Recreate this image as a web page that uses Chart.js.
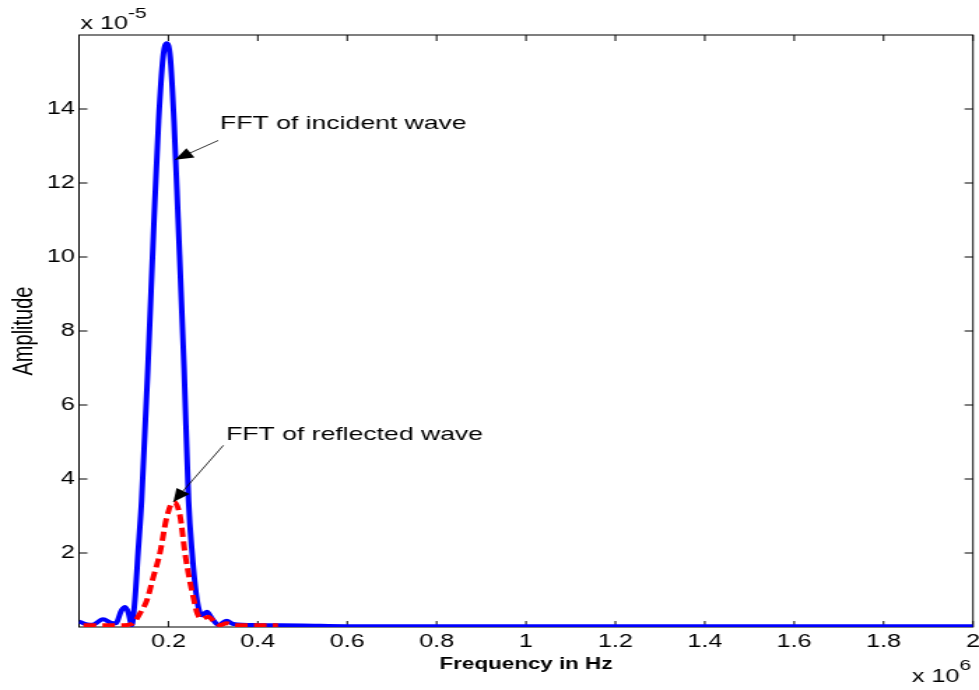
<!DOCTYPE html>
<html>
<head>
<meta charset="utf-8">
<script src="https://cdn.jsdelivr.net/npm/chart.js@4"></script>
<style>
  html, body { margin: 0; padding: 0; background: #fff; overflow: hidden; }
  /* the figure is drawn narrow and stretched wide, like the original export */
  #fftChart { display: block; transform: scaleX(1.39857); transform-origin: 0 0; }
</style>
</head>
<body>
<canvas id="fftChart" width="700" height="690"></canvas>
<script>
// frequency in units of 10^6 Hz, amplitude in units of 10^-5
const incidentFreq = [0.000, 0.015, 0.030, 0.054, 0.070, 0.082, 0.095, 0.103, 0.110, 0.118,
  0.125, 0.132, 0.140, 0.154, 0.168, 0.178, 0.188, 0.196, 0.204, 0.2125,
  0.2215, 0.235, 0.245, 0.253, 0.264, 0.275, 0.286, 0.298, 0.312, 0.330,
  0.345, 0.400, 0.500, 0.600, 0.800, 1.000, 1.500, 2.000];
const incidentAmp = [0.15, 0.08, 0.06, 0.21, 0.12, 0.10, 0.45, 0.54, 0.40, 0.05,
  0.73, 2.00, 3.42, 7.00, 11.06, 13.67, 15.40, 15.78, 15.40, 13.67,
  11.06, 7.00, 3.42, 2.00, 0.73, 0.32, 0.41, 0.22, 0.05, 0.17,
  0.08, 0.05, 0.04, 0.02, 0.02, 0.02, 0.02, 0.02];

const reflectedFreq = [0.010, 0.050, 0.100, 0.118, 0.125, 0.138, 0.152, 0.165, 0.181, 0.195,
  0.205, 0.213, 0.226, 0.237, 0.247, 0.257, 0.265, 0.275, 0.289, 0.302,
  0.315, 0.330, 0.350, 0.445];
const reflectedAmp = [0.05, 0.05, 0.05, 0.08, 0.15, 0.40, 0.73, 1.30, 2.00, 2.90,
  3.30, 3.38, 3.00, 2.00, 1.30, 0.73, 0.35, 0.22, 0.28, 0.15,
  0.05, 0.10, 0.05, 0.05];

const xTickValues = [0.2, 0.4, 0.6, 0.8, 1, 1.2, 1.4, 1.6, 1.8, 2];
const yTickValues = [2, 4, 6, 8, 10, 12, 14];

const FONT = "'Liberation Sans', Arial, Helvetica, sans-serif";

const notes = [
  { text: 'FFT of incident wave', at: [0.3155, 13.47], tail: [0.3115, 13.15], tip: [0.2148, 12.63] },
  { text: 'FFT of reflected wave', at: [0.329, 5.06], tail: [0.323, 4.91], tip: [0.211, 3.38] }
];

// MATLAB style box with inward ticks, exponents and arrows
const matlabFrame = {
  id: 'matlabFrame',
  beforeDatasetsDraw(chart) {
    const { ctx, chartArea: a, scales: { x, y } } = chart;
    ctx.save();
    ctx.strokeStyle = '#000';
    ctx.lineWidth = 1;
    ctx.strokeRect(a.left, a.top, a.right - a.left, a.bottom - a.top);
    ctx.beginPath();
    xTickValues.forEach(v => {
      const px = x.getPixelForValue(v);
      ctx.moveTo(px, a.bottom); ctx.lineTo(px, a.bottom - 6);
      ctx.moveTo(px, a.top); ctx.lineTo(px, a.top + 6);
    });
    yTickValues.forEach(v => {
      const py = y.getPixelForValue(v);
      ctx.moveTo(a.left, py); ctx.lineTo(a.left + 6, py);
      ctx.moveTo(a.right, py); ctx.lineTo(a.right - 6, py);
    });
    ctx.stroke();
    ctx.restore();
  },
  afterDraw(chart) {
    const { ctx, chartArea: a, scales: { x, y } } = chart;
    ctx.save();
    ctx.fillStyle = '#000';
    ctx.textBaseline = 'alphabetic';
    ctx.textAlign = 'left';

    // exponents
    ctx.font = '18px ' + FONT;
    ctx.fillText('x 10', a.left + 1, 29);
    let w = ctx.measureText('x 10').width;
    ctx.font = '15px ' + FONT;
    ctx.fillText('-5', a.left + 1 + w, 18);

    ctx.font = '18px ' + FONT;
    ctx.fillText('x 10', 652, 682);
    w = ctx.measureText('x 10').width;
    ctx.font = '15px ' + FONT;
    ctx.fillText('6', 652 + w, 670);

    // annotations
    notes.forEach(n => {
      ctx.font = '19px ' + FONT;
      ctx.fillText(n.text, x.getPixelForValue(n.at[0]), y.getPixelForValue(n.at[1]));
      const x0 = x.getPixelForValue(n.tail[0]), y0 = y.getPixelForValue(n.tail[1]);
      const x1 = x.getPixelForValue(n.tip[0]), y1 = y.getPixelForValue(n.tip[1]);
      const ang = Math.atan2(y1 - y0, x1 - x0);
      ctx.strokeStyle = '#000';
      ctx.lineWidth = 0.8;
      ctx.beginPath();
      ctx.moveTo(x0, y0);
      ctx.lineTo(x1, y1);
      ctx.stroke();
      const hl = 13, hw = 5.5;
      const bx = x1 - hl * Math.cos(ang), by = y1 - hl * Math.sin(ang);
      ctx.beginPath();
      ctx.moveTo(x1, y1);
      ctx.lineTo(bx + hw * Math.sin(ang), by - hw * Math.cos(ang));
      ctx.lineTo(bx - hw * Math.sin(ang), by + hw * Math.cos(ang));
      ctx.closePath();
      ctx.fill();
    });
    ctx.restore();
  }
};

const ctx = document.getElementById('fftChart').getContext('2d');

const fftChart = new Chart(ctx, {
  type: 'line',
  data: {
    datasets: [{
      label: 'Incident wave',
      data: incidentFreq.map((f, i) => ({ x: f, y: incidentAmp[i] })),
      borderColor: '#0000ff',
      borderWidth: 4,
      pointRadius: 0,
      cubicInterpolationMode: 'monotone',
      fill: false,
      order: 1
    }, {
      label: 'Reflected wave',
      data: reflectedFreq.map((f, i) => ({ x: f, y: reflectedAmp[i] })),
      borderColor: '#ff0000',
      borderWidth: 4,
      borderDash: [9, 4.5],
      pointRadius: 0,
      cubicInterpolationMode: 'monotone',
      fill: false,
      order: 0
    }]
  },
  options: {
    responsive: false,
    animation: false,
    devicePixelRatio: 1,
    layout: { padding: { left: 0, top: 35, right: 4.3, bottom: 0 } },
    plugins: { legend: { display: false }, tooltip: { enabled: false } },
    scales: {
      x: {
        type: 'linear',
        min: 0,
        max: 2,
        grid: { display: false, drawTicks: false },
        border: { display: false },
        afterBuildTicks: s => { s.ticks = xTickValues.map(v => ({ value: v })); },
        afterFit: s => { s.height = 63; s.paddingLeft = 0; s.paddingRight = 0; },
        ticks: {
          font: { family: FONT, size: 18 },
          color: '#000',
          padding: 4,
          maxRotation: 0,
          autoSkip: false,
          callback: v => String(v)
        },
        title: {
          display: true,
          text: 'Frequency in Hz',
          color: '#000',
          font: { family: FONT, size: 16, weight: 'bold' },
          padding: { top: 0, bottom: 16 }
        }
      },
      y: {
        type: 'linear',
        min: 0,
        max: 16,
        grid: { display: false, drawTicks: false },
        border: { display: false },
        afterBuildTicks: s => { s.ticks = yTickValues.map(v => ({ value: v })); },
        afterFit: s => { s.width = 56.5; s.paddingTop = 0; s.paddingBottom = 0; },
        ticks: {
          font: { family: FONT, size: 18 },
          color: '#000',
          padding: 3,
          callback: v => String(v)
        },
        title: {
          display: true,
          text: 'Amplitude',
          color: '#000',
          font: { family: FONT, size: 20 },
          padding: { top: 5, bottom: 0 }
        }
      }
    }
  },
  plugins: [matlabFrame]
});
</script>
</body>
</html>
